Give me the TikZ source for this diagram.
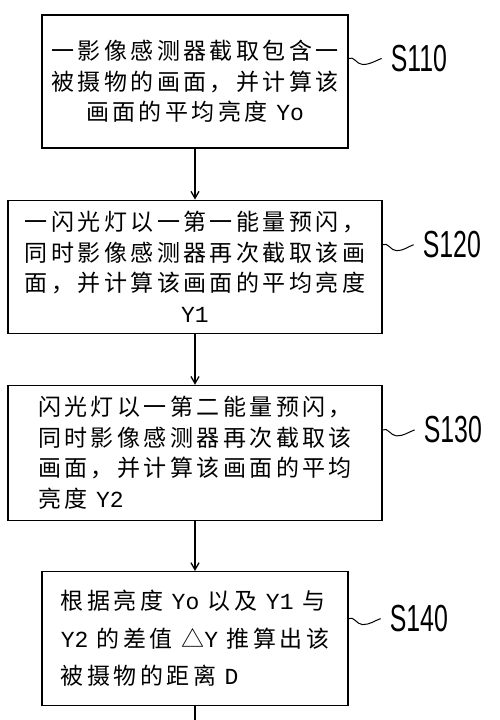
\documentclass[tikz,border=0pt]{standalone}
\usepackage{fontspec}
\usepackage{tikz}
\usetikzlibrary{arrows.meta, positioning}
\newfontfamily\cjk{Noto Sans CJK SC}
\newfontfamily\lat{Liberation Mono}
\newfontfamily\stepfont[FakeStretch=0.66]{Liberation Sans}

\begin{document}
\begin{tikzpicture}[
        node distance=51pt,
        box/.style={draw, line width=1.2pt, inner sep=0pt, minimum height=133pt,
            font=\cjk\fontsize{23}{30.5}\selectfont\addfontfeature{LetterSpace=15}},
        steplabel/.style={inner sep=0pt, font=\stepfont\fontsize{37.7}{40}\selectfont},
        arrow/.style={-{Straight Barb[length=7pt, width=8pt]}, line width=1.3pt}
    ]
    \useasboundingbox (0,0) rectangle (500pt,-720pt);

    % Nodes
    \node (capture) [box, minimum width=306pt, align=center] at (195pt,-81.5pt)
        {一影像感测器截取包含一\\被摄物的画面，并计算该\\画面的平均亮度 {\lat Yo}};
    \node (preflash_a) [box, below=of capture, minimum width=374pt, align=center]
        {一闪光灯以一第一能量预闪，\\同时影像感测器再次截取该画\\面，并计算该画面的平均亮度\\{\lat Y1}};
    \node (preflash_b) [box, below=of preflash_a, minimum width=374pt, minimum height=135pt, align=left]
        {闪光灯以一第二能量预闪，\\同时影像感测器再次截取该\\画面，并计算该画面的平均\\亮度 {\lat Y2}};
    \node (distance) [box, below=50pt of preflash_b, minimum width=306pt, minimum height=134pt, align=left,
        font=\cjk\fontsize{23}{37.5}\selectfont\addfontfeature{LetterSpace=15}]
        {根据亮度 {\lat Yo} 以及 {\lat Y1} 与\\{\lat Y2} 的差值 △{\lat Y} 推算出该\\被摄物的距离 {\lat D}};
    \coordinate [below=18pt of distance] (bottom);

    \node (s110) [steplabel, anchor=west] at ([shift={(42pt,23pt)}]capture.east) {S110};
    \node (s120) [steplabel, anchor=west] at ([shift={(40pt,22pt)}]preflash_a.east) {S120};
    \node (s130) [steplabel, anchor=west] at ([shift={(41pt,23pt)}]preflash_b.east) {S130};
    \node (s140) [steplabel, anchor=west] at ([shift={(41pt,20pt)}]distance.east) {S140};

    % Connections
    \draw[arrow] (capture) -- (preflash_a);
    \draw[arrow] (preflash_a) -- (preflash_b);
    \draw[arrow] (preflash_b) -- (distance);
    \draw[line width=1.3pt] (distance) -- (bottom);

    \foreach \b/\s in {capture/s110, preflash_a/s120, preflash_b/s130, distance/s140}
        \draw[line width=1pt] (\b.east |- \s.west) to[out=30, in=180] ++(14pt,-6pt)
            to[out=0, in=200] ([xshift=-9pt]\s.west);

\end{tikzpicture}
\end{document}
